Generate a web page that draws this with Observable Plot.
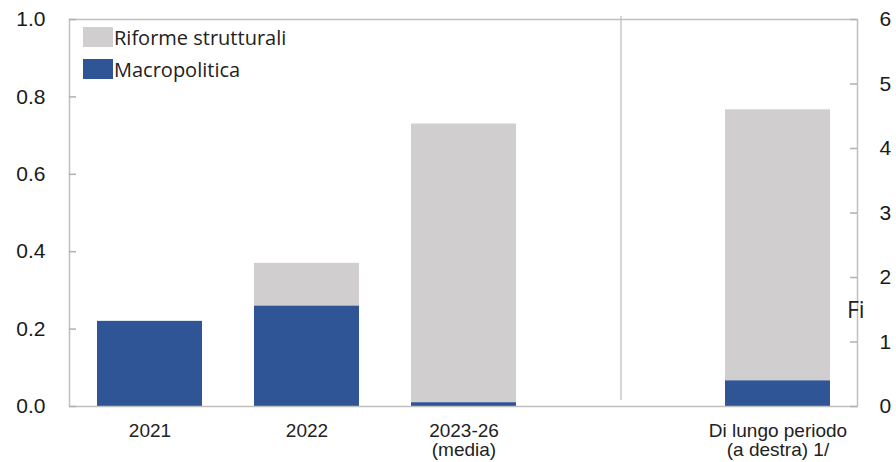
<!DOCTYPE html>
<html>
<head>
<meta charset="utf-8">
<script src="https://cdn.jsdelivr.net/npm/d3@7"></script>
<script src="https://cdn.jsdelivr.net/npm/@observablehq/plot@0.6"></script>
<style>
  html, body { margin: 0; padding: 0; background: #fff; }
  #wrap { position: relative; width: 896px; height: 462px; }
  .legend { position: absolute; left: 83px; font-family: "Open Sans", "Noto Sans", sans-serif; font-size: 20px; color: #222; display: flex; align-items: center; height: 20px; }
  .legend .sw { width: 30px; height: 20px; margin-right: 1px; }
  .fi { position: absolute; left: 847px; top: 293px; font-family: "Open Sans", "Noto Sans", sans-serif; font-size: 23px; color: #222; line-height: normal; }
</style>
</head>
<body>
<div id="wrap"></div>
<script>
// Data
const categories = ["2021", "2022", "2023-26\n(media)", " ", "Di lungo periodo\n(a destra) 1/"];
const macropolitica = [0.22, 0.26, 0.01, null, 0.4];      // long-period value on right axis (0–6)
const riformeStrutturali = [0, 0.11, 0.72, null, 4.2];       // long-period value on right axis (0–6)
const rightAxisScale = [false, false, false, false, true];   // true: value read on right axis
const leftTicks = [0, 0.2, 0.4, 0.6, 0.8, 1.0];
const rightTicks = [0, 1, 2, 3, 4, 5, 6];
const seriesNames = ["Macropolitica", "Riforme strutturali"];
const seriesColors = ["#2f5597", "#d0cece"];

const RIGHT_MAX = 6;
const rows = [];
categories.forEach((c, i) => {
  if (macropolitica[i] == null) return;
  const k = rightAxisScale[i] ? 1 / RIGHT_MAX : 1;
  rows.push({cat: c, series: seriesNames[0], value: macropolitica[i] * k});
  rows.push({cat: c, series: seriesNames[1], value: riformeStrutturali[i] * k});
});

const W = 896, ML = 69, MR = 39;
const frameW = W - ML - MR;
const TICK = 7;

const chart = Plot.plot({
  width: W,
  height: 462,
  marginLeft: ML,
  marginRight: MR,
  marginTop: 19,
  marginBottom: 56,
  style: {fontFamily: "'Liberation Sans', Arial, sans-serif", background: "#fff"},
  x: {domain: categories, paddingInner: 0.334, paddingOuter: 0.167, axis: null},
  y: {domain: [0, 1], axis: null},
  color: {domain: seriesNames, range: seriesColors},
  marks: [
    Plot.ruleX([" "], {stroke: "#c8c8c8", strokeWidth: 1.5, insetTop: -3, insetBottom: 6}),
    Plot.barY(rows, Plot.stackY({x: "cat", y: "value", fill: "series", order: seriesNames})),
    Plot.frame({stroke: "#bfbfbf", strokeWidth: 1.5}),
    // inward tick marks
    Plot.ruleY(leftTicks, {stroke: "#b0b0b0", strokeWidth: 1.5, insetRight: frameW - TICK}),
    Plot.ruleY(rightTicks.map(v => v / RIGHT_MAX), {stroke: "#b0b0b0", strokeWidth: 1.5, insetLeft: frameW - TICK}),
    Plot.axisY({
      ticks: leftTicks, tickFormat: d3.format(".1f"), anchor: "left", label: null,
      tickSize: 0, tickPadding: 24, fontSize: 21, fill: "#1a1a1a"
    }),
    Plot.axisY({
      ticks: rightTicks.map(v => v / RIGHT_MAX), tickFormat: v => String(Math.round(v * RIGHT_MAX)), anchor: "right", label: null,
      tickSize: 0, tickPadding: 22, fontSize: 21, fill: "#1a1a1a"
    }),
    Plot.axisX({
      anchor: "bottom", label: null, tickSize: 0, tickPadding: 17, fontSize: 19, fill: "#222", lineHeight: 1.0
    })
  ]
});

const wrap = document.getElementById("wrap");
wrap.appendChild(chart);

// Legend (overlay inside the plot frame)
const legendItems = [
  {name: seriesNames[1], color: seriesColors[1], top: 27},
  {name: seriesNames[0], color: seriesColors[0], top: 59}
];
legendItems.forEach(d => {
  const el = document.createElement("div");
  el.className = "legend";
  el.style.top = d.top + "px";
  const sw = document.createElement("span");
  sw.className = "sw";
  sw.style.background = d.color;
  const tx = document.createElement("span");
  tx.textContent = d.name;
  el.appendChild(sw);
  el.appendChild(tx);
  wrap.appendChild(el);
});

// Truncated right axis title as in the original
const fi = document.createElement("div");
fi.className = "fi";
fi.textContent = "Fi";
wrap.appendChild(fi);
</script>
</body>
</html>
